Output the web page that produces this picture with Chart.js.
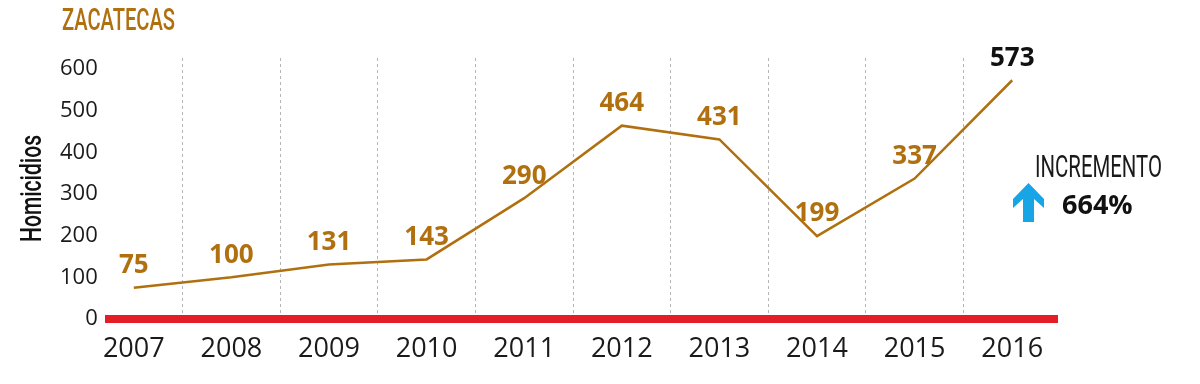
<!DOCTYPE html>
<html><head><meta charset="utf-8">
<script src="https://cdn.jsdelivr.net/npm/chart.js@4.4.1/dist/chart.umd.min.js"></script>
<style>html,body{margin:0;padding:0;background:#fff}#wrap{width:1200px;height:384px;position:relative}</style>
</head><body><div id="wrap"><canvas id="c" width="1200" height="384"></canvas></div>
<script>
const years = ['2007','2008','2009','2010','2011','2012','2013','2014','2015','2016'];
const homicidios = [75,100,131,143,290,464,431,199,337,573];
const yTickValues = [0,100,200,300,400,500,600];
const titleText = 'ZACATECAS';
const axisTitleText = 'Homicidios';
const incrementLabel = 'INCREMENTO';
const incrementValue = '664%';

const BROWN = '#B0700F';
const RED = '#E41E26';
const CYAN = '#17A5E6';

function fitText(ctx, text, x, y, size, weight, color, targetW, rot) {
  ctx.save();
  ctx.font = weight + ' ' + size + 'px Roboto';
  const w = ctx.measureText(text).width;
  const sx = targetW / w;
  ctx.translate(x, y);
  if (rot) ctx.rotate(rot);
  ctx.scale(sx, 1);
  ctx.fillStyle = color;
  ctx.textAlign = 'left';
  ctx.textBaseline = 'alphabetic';
  ctx.fillText(text, 0, 0);
  ctx.restore();
}

const decor = {
  id: 'decor',
  beforeDatasetsDraw(chart) {
    const ctx = chart.ctx, ca = chart.chartArea;
    const y0 = chart.scales.y.getPixelForValue(0);
    ctx.save();
    ctx.strokeStyle = RED;
    ctx.lineWidth = 8;
    ctx.beginPath();
    ctx.moveTo(ca.left + 20, y0);
    ctx.lineTo(ca.right - 3, y0);
    ctx.stroke();
    ctx.restore();
  },
  afterDatasetsDraw(chart) {
    const ctx = chart.ctx;
    const meta = chart.getDatasetMeta(0);
    ctx.save();
    ctx.font = 'bold 26px "Open Sans"';
    ctx.textAlign = 'center';
    ctx.textBaseline = 'middle';
    meta.data.forEach((pt, i) => {
      ctx.fillStyle = i === meta.data.length - 1 ? '#111' : BROWN;
      ctx.fillText(String(homicidios[i]), pt.x, pt.y - 22);
    });
    ctx.restore();
  },
  afterDraw(chart) {
    const ctx = chart.ctx;
    fitText(ctx, titleText, 62, 30, 31, '500', BROWN, 113, 0);
    fitText(ctx, axisTitleText, 41, 242, 30, '500', '#111', 107, -Math.PI / 2);
    fitText(ctx, incrementLabel, 1035, 177, 31, '400', '#1a1a1a', 127, 0);
    ctx.save();
    ctx.font = 'bold 27px "Open Sans"';
    ctx.fillStyle = '#111';
    ctx.textAlign = 'left';
    ctx.textBaseline = 'alphabetic';
    ctx.fillText(incrementValue, 1062, 214);
    ctx.fillStyle = CYAN;
    ctx.beginPath();
    ctx.moveTo(1028.5, 183);
    ctx.lineTo(1044, 199);
    ctx.lineTo(1044, 208);
    ctx.lineTo(1034, 199);
    ctx.lineTo(1034, 222);
    ctx.lineTo(1023, 222);
    ctx.lineTo(1023, 199);
    ctx.lineTo(1013, 208);
    ctx.lineTo(1013, 199);
    ctx.closePath();
    ctx.fill();
    ctx.restore();
  }
};

new Chart(document.getElementById('c'), {
  type: 'line',
  data: {
    labels: years,
    datasets: [{
      data: homicidios,
      borderColor: BROWN,
      borderWidth: 2.5,
      pointRadius: 0,
      tension: 0,
      fill: false
    }]
  },
  options: {
    responsive: false,
    animation: false,
    devicePixelRatio: 1,
    layout: { padding: { top: 58, right: 139, left: 0, bottom: 0 } },
    plugins: { legend: { display: false }, tooltip: { enabled: false }, title: { display: false } },
    scales: {
      x: {
        offset: true,
        grid: {
          offset: true,
          drawTicks: false,
          lineWidth: 1,
          color: (c) => (c.type === 'tick' && c.index >= 1 && c.index <= 9) ? '#b5b5b5' : 'rgba(0,0,0,0)'
        },
        border: { display: false, dash: [3, 3] },
        ticks: { color: '#1a1a1a', font: { family: 'Open Sans', size: 27 }, padding: 14, maxRotation: 0 },
        afterFit(s) { s.height = 65; }
      },
      y: {
        min: 0,
        max: 626.4,
        afterBuildTicks(s) { s.ticks = yTickValues.map(v => ({ value: v })); },
        grid: { display: false, drawTicks: false },
        border: { display: false },
        ticks: { color: '#1a1a1a', font: { family: 'Open Sans', size: 22 }, mirror: true, crossAlign: 'far', padding: -25 },
        afterFit(s) { s.width = 85; }
      }
    }
  },
  plugins: [decor]
});
</script>
</body></html>
